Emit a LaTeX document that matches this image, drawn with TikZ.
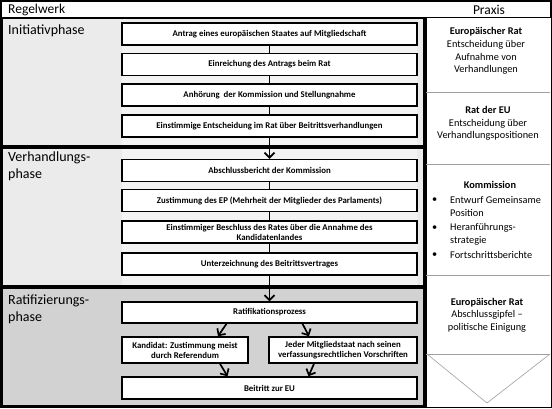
\documentclass[tikz,border=0pt]{standalone}
\usepackage{fontspec}
\setmainfont{Carlito}
\usetikzlibrary{arrows.meta,calc}
\definecolor{panelA}{HTML}{EBEBEB}
\definecolor{panelB}{HTML}{D2D2D2}
\definecolor{bandA}{HTML}{F3F3F3}
\definecolor{sepgray}{HTML}{A0A0A0}
\begin{document}
\begin{tikzpicture}[x=1pt,y=-1pt,
  stepbox/.style={draw=black, line width=1.5pt, fill=white, minimum width=295pt, minimum height=22pt,
    font=\fontsize{8.8}{10}\selectfont\bfseries, align=center, inner sep=1pt},
  subbox/.style={stepbox, minimum height=26pt},
  panel/.style={draw=black, line width=1.2pt},
  phasetxt/.style={anchor=west, font=\fontsize{14}{17}\selectfont, align=left, inner sep=0pt},
  praxtxt/.style={font=\fontsize{10.3}{12.7}\selectfont, align=center, inner sep=0pt},
  bultxt/.style={font=\fontsize{10.3}{12.7}\selectfont, anchor=west, inner sep=0pt},
  conn/.style={line width=1.7pt},
  arr/.style={line width=1.7pt, -{Straight Barb[length=5pt,width=10pt]}},
  sep/.style={draw=sepgray, line width=0.6pt}]
\useasboundingbox (0,0) rectangle (552,408);
% outer frame
\draw[line width=1.5pt] (0.75,0.75) rectangle (551.25,407.25);
% header
\draw[line width=1.2pt] (1,1) rectangle (551,17.5);
\node[anchor=west, font=\fontsize{13.5}{15}\selectfont, inner sep=0pt] (hreg) at (8,9.5) {Regelwerk};
\node[font=\fontsize{13.5}{15}\selectfont, inner sep=0pt] (hprax) at (489,9.5) {Praxis};
% phase panels
\draw[panel, fill=panelA] (2,18.5) rectangle (424,146);
\draw[panel, fill=panelA] (2,148) rectangle (424,286);
\draw[panel, fill=panelB] (2,288) rectangle (424,406);
\fill[bandA] (122,22) rectangle (417,145);
\fill[bandA] (122,149) rectangle (417,285);
% phase labels
\node[phasetxt] (p1) at (8,31) {Initiativphase};
\node[phasetxt] (p2) at (8,166.5) {Verhandlungs-\\phase};
\node[phasetxt] (p3) at (8,309) {Ratifizierungs-\\phase};
% Initiativphase boxes
\node[stepbox] (a1) at (269.5,34) {Antrag eines europäischen Staates auf Mitgliedschaft};
\node[stepbox] (a2) at (269.5,64.5) {Einreichung des Antrags beim Rat};
\node[stepbox] (a3) at (269.5,95) {Anhörung \ der Kommission und Stellungnahme};
\node[stepbox] (a4) at (269.5,126) {Einstimmige Entscheidung im Rat über Beitrittsverhandlungen};
% Verhandlungsphase boxes
\node[stepbox] (v1) at (269.5,170.5) {Abschlussbericht der Kommission};
\node[stepbox] (v2) at (269.5,200.5) {Zustimmung des EP (Mehrheit der Mitglieder des Parlaments)};
\node[stepbox] (v3) at (269.5,232) {Einstimmiger Beschluss des Rates über die Annahme des\\Kandidatenlandes};
\node[stepbox] (v4) at (269.5,264) {Unterzeichnung des Beitrittsvertrages};
% Ratifizierungsphase boxes
\node[stepbox, minimum height=21pt] (r1) at (269.5,312.5) {Ratifikationsprozess};
\node[subbox, minimum width=126pt] (k) at (185,350) {Kandidat: Zustimmung meist\\durch Referendum};
\node[subbox, minimum width=148pt] (j) at (343,350) {Jeder Mitgliedstaat nach seinen\\verfassungsrechtlichen Vorschriften};
\node[stepbox] (bt) at (269.5,388) {Beitritt zur EU};
% connectors
\draw[conn] (a1.south) -- (a2.north);
\draw[conn] (a2.south) -- (a3.north);
\draw[conn] (a3.south) -- (a4.north);
\draw[arr] (a4.south) -- (v1.north);
\draw[conn] (v1.south) -- (v2.north);
\draw[conn] (v2.south) -- (v3.north);
\draw[conn] (v3.south) -- (v4.north);
\draw[arr] (v4.south) -- (r1.north);
\draw[arr] ([xshift=-43pt]r1.south) -- ([xshift=33pt]k.north);
\draw[arr] ([xshift=33pt]r1.south) -- ([xshift=-34pt]j.north);
\draw[arr] ([xshift=35pt]k.south) -- ([xshift=-42pt]bt.north);
\draw[arr] ([xshift=-29pt]j.south) -- ([xshift=39pt]bt.north);
% Praxis column
\draw[line width=1.2pt] (426,17.5) -- (426,406.5);
\draw[sep] (426,92) -- (550,92);
\draw[sep] (426,164) -- (550,164);
\draw[sep] (426,275) -- (550,275);
\draw[sep] (426,354) -- (550,354);
\draw[sep] (427,354) -- (487,403) -- (550,354);
\node[praxtxt] (x1) at (486,51) {\textbf{Europäischer Rat}\\Entscheidung über\\Aufnahme von\\Verhandlungen};
\node[praxtxt] (x2) at (488,123.5) {\textbf{Rat der EU}\\Entscheidung über\\Verhandlungspositionen};
\node[praxtxt] (x3) at (490,185) {\textbf{Kommission}};
\node[bultxt] (b1) at (432,200) {•};
\node[bultxt] (t1) at (450,200) {Entwurf Gemeinsame};
\node[bultxt] (t1b) at (450,213) {Position};
\node[bultxt] (b2) at (432,228) {•};
\node[bultxt] (t2) at (450,228) {Heranführungs-};
\node[bultxt] (t2b) at (450,241) {strategie};
\node[bultxt] (b3) at (432,255) {•};
\node[bultxt] (t3) at (450,255) {Fortschrittsberichte};
\node[praxtxt] (x4) at (487,315) {\textbf{Europäischer Rat}\\Abschlussgipfel –\\politische Einigung};
\end{tikzpicture}
\end{document}
